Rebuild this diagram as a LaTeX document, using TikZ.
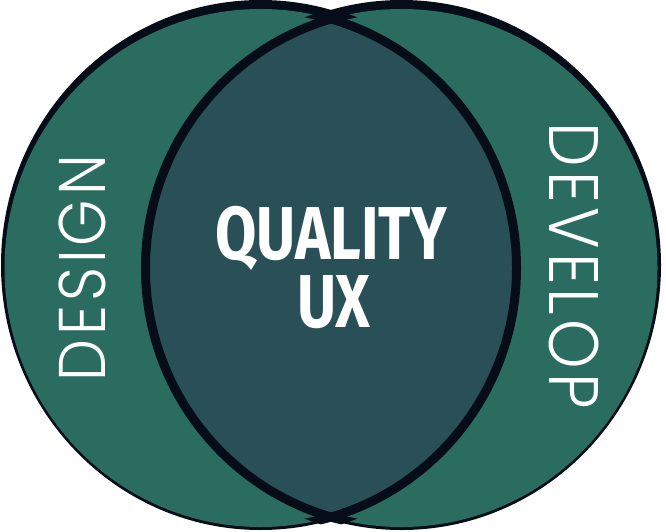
\documentclass[tikz,border=0pt]{standalone}
\usepackage{fontspec}
\IfFontExistsTF{Poppins Light}
  {\newfontfamily\labelfont{Poppins Light}[FakeStretch=0.9,LetterSpace=6]}
  {\newfontfamily\labelfont{Poppins}[FakeStretch=0.9,LetterSpace=6]}
\newfontfamily\titlefont{Fira Sans}[FakeStretch=0.8]
\definecolor{ringgreen}{HTML}{2A6C60}
\definecolor{lensteal}{HTML}{285056}
\definecolor{inkline}{HTML}{060D18}
\begin{document}
\begin{tikzpicture}[x=1pt,y=-1pt,
  side label/.style={text=white,inner sep=0pt,font=\labelfont\fontsize{66}{66}\selectfont},
  title label/.style={text=white,inner sep=0pt,anchor=base,font=\titlefont\bfseries\fontsize{75}{75}\selectfont}]
  \useasboundingbox (0,0) rectangle (666,532);
  % outer rings, thicker at the top
  \fill[inkline] (260.5,265) ellipse [x radius=259.5,y radius=265];
  \fill[inkline] (401.5,265) ellipse [x radius=259.5,y radius=265];
  \fill[ringgreen] (260.5,268) ellipse [x radius=256,y radius=259];
  \fill[ringgreen] (401.5,268) ellipse [x radius=256,y radius=259];
  % the overlap
  \begin{scope}
    \clip (260.5,268) ellipse [x radius=256,y radius=259];
    \fill[lensteal] (401.5,268) ellipse [x radius=256,y radius=259];
  \end{scope}
  \begin{scope}
    \clip (401.5,268) ellipse [x radius=266,y radius=269];
    \draw[inkline,line width=9pt] (260.5,268) ellipse [x radius=256,y radius=259];
  \end{scope}
  \begin{scope}
    \clip (260.5,268) ellipse [x radius=266,y radius=269];
    \draw[inkline,line width=9pt] (401.5,268) ellipse [x radius=256,y radius=259];
  \end{scope}
  % texts
  \node[side label,rotate=90] (design) at (82,268) {DESIGN};
  \node[side label,rotate=-90,font=\labelfont\fontsize{70}{70}\selectfont] (develop) at (574,266) {DEVELOP};
  \node[title label] (quality) at (331,259) {QUALITY};
  \node[title label] (ux) at (334,327) {UX};
\end{tikzpicture}
\end{document}
